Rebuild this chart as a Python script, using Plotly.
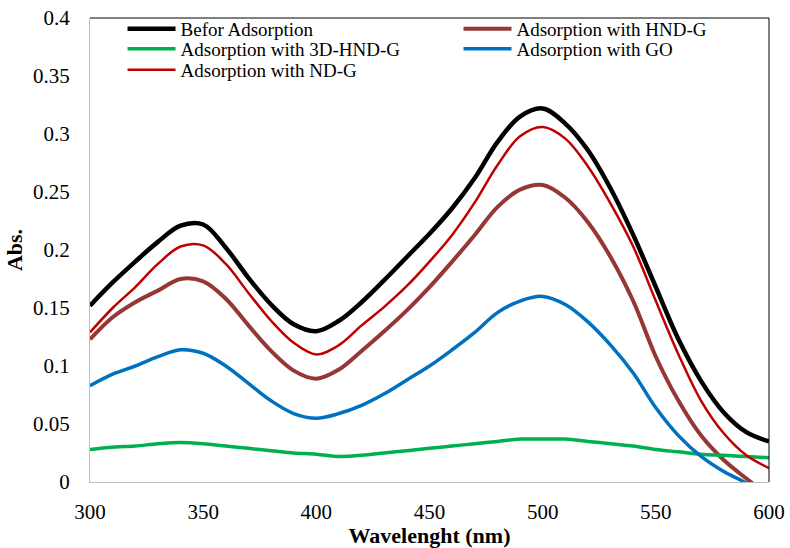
import plotly.graph_objects as go

wavelength = [300, 310, 320, 330, 340, 350, 360, 370, 380, 390, 400, 410, 420, 430, 440, 450,
              460, 470, 480, 490, 500, 510, 520, 530, 540, 550, 560, 570, 580, 590, 600]

befor = [0.152, 0.172, 0.190, 0.207, 0.221, 0.222, 0.202, 0.176, 0.153, 0.136, 0.130, 0.139,
         0.155, 0.174, 0.194, 0.214, 0.236, 0.262, 0.293, 0.315, 0.322, 0.309, 0.286, 0.253,
         0.213, 0.168, 0.123, 0.087, 0.060, 0.043, 0.035]
hnd_g = [0.123, 0.142, 0.155, 0.165, 0.175, 0.173, 0.158, 0.135, 0.113, 0.096, 0.089, 0.097,
         0.113, 0.130, 0.148, 0.168, 0.190, 0.213, 0.237, 0.252, 0.256, 0.245, 0.224, 0.194,
         0.156, 0.108, 0.070, 0.040, 0.019, 0.003, -0.012]
hnd3d_g = [0.028, 0.030, 0.031, 0.033, 0.034, 0.033, 0.031, 0.029, 0.027, 0.025, 0.024, 0.022,
           0.023, 0.025, 0.027, 0.029, 0.031, 0.033, 0.035, 0.037, 0.037, 0.037, 0.035, 0.033,
           0.031, 0.028, 0.026, 0.024, 0.023, 0.022, 0.021]
go_vals = [0.083, 0.093, 0.100, 0.108, 0.114, 0.111, 0.100, 0.085, 0.070, 0.059, 0.055, 0.059,
           0.066, 0.076, 0.088, 0.100, 0.114, 0.129, 0.146, 0.156, 0.160, 0.153, 0.138, 0.118,
           0.094, 0.064, 0.040, 0.022, 0.009, -0.001, -0.015]
nd_g = [0.129, 0.150, 0.168, 0.188, 0.203, 0.204, 0.188, 0.163, 0.139, 0.120, 0.110, 0.118,
        0.135, 0.151, 0.169, 0.190, 0.213, 0.241, 0.273, 0.298, 0.306, 0.296, 0.272, 0.240,
        0.203, 0.156, 0.110, 0.070, 0.042, 0.023, 0.012]

series_names = ["Befor Adsorption", "Adsorption with HND-G", "Adsorption with 3D-HND-G",
                "Adsorption with GO", "Adsorption with ND-G"]
series_values = [befor, hnd_g, hnd3d_g, go_vals, nd_g]
colors = ["#000000", "#953735", "#00B050", "#0070C0", "#C00000"]
widths = [4.5, 4, 3.5, 3.5, 2.5]

x_ticks = [300, 350, 400, 450, 500, 550, 600]
y_ticks = [0, 0.05, 0.1, 0.15, 0.2, 0.25, 0.3, 0.35, 0.4]
y_tick_text = ["0", "0.05", "0.1", "0.15", "0.2", "0.25", "0.3", "0.35", "0.4"]

FONT = "Liberation Serif, Times New Roman, serif"

# one legend per entry, laid out as two columns x three rows
legend_ids = ["legend", "legend2", "legend3", "legend4", "legend5"]
legend_pos = [(0.0479, 0.9763), (0.5427, 0.9763), (0.0479, 0.9332), (0.5427, 0.9332),
              (0.0479, 0.8879)]

fig = go.Figure()
for name, vals, c, w, lg in zip(series_names, series_values, colors, widths, legend_ids):
    fig.add_trace(go.Scatter(x=wavelength, y=vals, mode="lines", name=name, legend=lg,
                             line=dict(color=c, width=w, shape="spline", smoothing=1)))

layout_legends = {}
for lg, (lx, ly) in zip(legend_ids, legend_pos):
    layout_legends[lg] = dict(x=lx, y=ly, xanchor="left", yanchor="middle",
                              font=dict(family=FONT, size=19, color="#000000"),
                              itemwidth=48, bgcolor="rgba(0,0,0,0)")

fig.update_layout(
    width=790, height=548,
    margin=dict(l=90, r=21, t=18, b=66, autoexpand=False),
    paper_bgcolor="white", plot_bgcolor="white",
    font=dict(family=FONT, size=21, color="#000000"),
    xaxis=dict(range=[300, 600], tickvals=x_ticks, showgrid=False, zeroline=False,
               showline=True, linecolor="#BFBFBF", linewidth=1, ticks="",
               ticklabelstandoff=11, automargin=True,
               tickfont=dict(family=FONT, size=21),
               title=dict(text="<b>Wavelenght (nm)</b>", font=dict(family=FONT, size=22),
                          standoff=0)),
    yaxis=dict(range=[0, 0.4], tickvals=y_ticks, ticktext=y_tick_text, showgrid=False,
               zeroline=False, showline=True, linecolor="#BFBFBF", linewidth=1, ticks="",
               ticklabelstandoff=15, automargin=True,
               tickfont=dict(family=FONT, size=21),
               title=dict(text="<b>Abs.</b>", font=dict(family=FONT, size=22), standoff=4)),
    showlegend=True,
    **layout_legends,
)

# dark top and right frame lines
fig.add_shape(type="line", xref="paper", yref="paper", x0=0, x1=1, y0=1, y1=1,
              line=dict(color="#000000", width=1))
fig.add_shape(type="line", xref="paper", yref="paper", x0=1, x1=1, y0=0, y1=1,
              line=dict(color="#000000", width=1))

fig.write_html("out.html", config={"displayModeBar": False},
               post_script="document.body.style.margin='0';document.body.style.padding='0';")
